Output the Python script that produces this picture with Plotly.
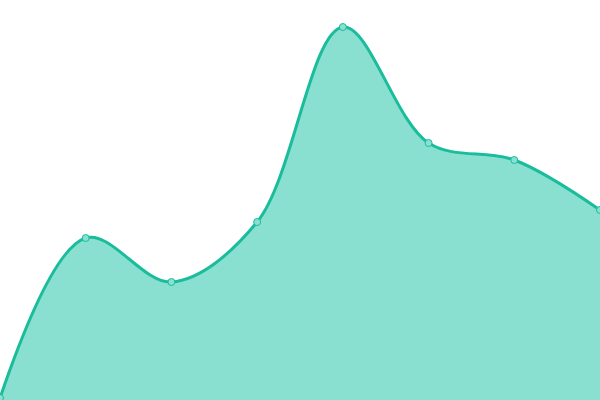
import plotly.graph_objects as go

# values (y axis 0..400)
steps = [0, 1, 2, 3, 4, 5, 6, 7]
values = [2, 162, 118, 178, 373, 257, 240, 190]

line_color = "#1abc9c"
fill_color = "#8ae0d0"

fig = go.Figure(go.Scatter(
    x=steps, y=values,
    mode="lines+markers",
    line=dict(color=line_color, width=3, shape="spline", smoothing=1),
    fill="tozeroy", fillcolor=fill_color,
    marker=dict(size=7, color=fill_color, line=dict(color=line_color, width=1)),
    cliponaxis=True,
    hoverinfo="skip",
))

fig.update_layout(
    width=600, height=400,
    margin=dict(l=0, r=0, t=0, b=0),
    paper_bgcolor="white", plot_bgcolor="white",
    showlegend=False,
    xaxis=dict(range=[0, 7], visible=False),
    yaxis=dict(range=[0, 400], visible=False),
)

# the page body has an 8px default margin; drop it so the chart fills the window
fig.write_html("out.html", config={"displayModeBar": False},
               post_script="document.body.style.margin='0';")
